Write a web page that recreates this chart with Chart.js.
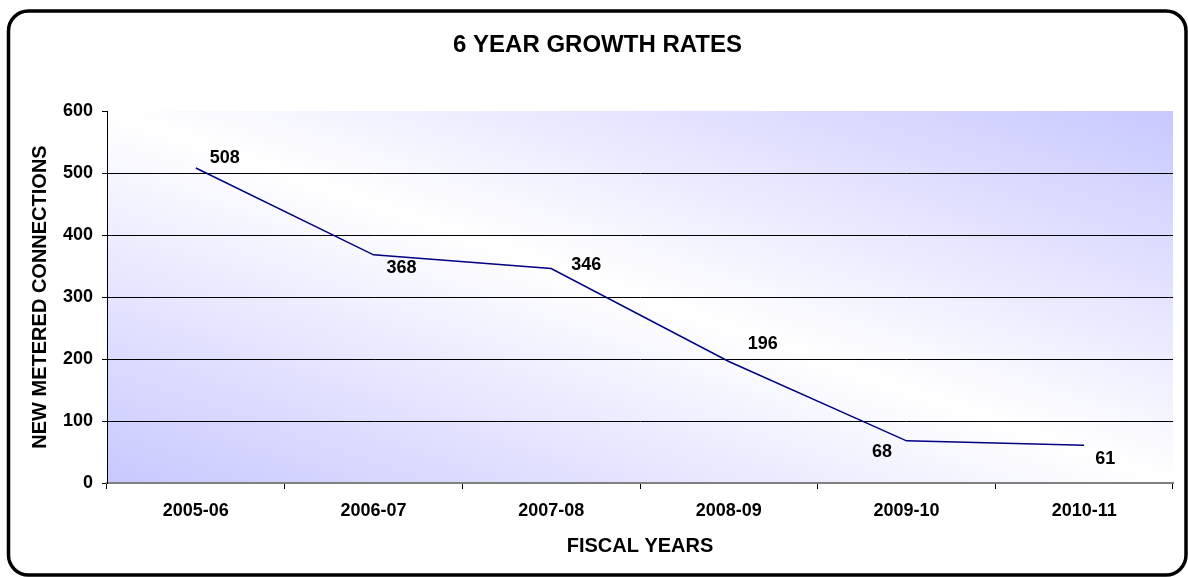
<!DOCTYPE html>
<html>
<head>
<meta charset="utf-8">
<title>6 Year Growth Rates</title>
<script src="https://cdn.jsdelivr.net/npm/chart.js@4/dist/chart.umd.min.js"></script>
<style>
    html, body { margin: 0; padding: 0; background: #ffffff; }
    #wrap { position: relative; width: 1188px; height: 577px; }
</style>
</head>
<body>
<div id="wrap"><canvas id="growthChart"></canvas></div>
<script>
// Chart data
const fiscalYears = ['2005-06', '2006-07', '2007-08', '2008-09', '2009-10', '2010-11'];
const newConnections = [508, 368, 346, 196, 68, 61];
const yMin = 0;
const yMax = 600;
const yStep = 100;

const FONT = "'Liberation Sans', Arial, Helvetica, sans-serif";

// Excel-style diagonal gradient behind the plot
const plotBackground = {
    id: 'plotBackground',
    beforeDraw(chart) {
        const { ctx, chartArea: a } = chart;
        ctx.save();
        ctx.translate(a.left, a.top);
        ctx.scale(a.right - a.left, a.bottom - a.top);
        const g = ctx.createLinearGradient(0, 1, 1, 0);
        g.addColorStop(0, '#c8c8ff');
        g.addColorStop(0.5, '#ffffff');
        g.addColorStop(1, '#c8c8ff');
        ctx.fillStyle = g;
        ctx.fillRect(0, 0, 1, 1);
        ctx.restore();
    }
};

// Rounded outer frame
const chartFrame = {
    id: 'chartFrame',
    afterDraw(chart) {
        const ctx = chart.ctx;
        const x = 8.5, y = 11, w = 1177.5, h = 564, r = 20;
        ctx.save();
        ctx.lineWidth = 3.5;
        ctx.strokeStyle = '#000000';
        ctx.beginPath();
        ctx.roundRect(x, y, w, h, r);
        ctx.stroke();
        ctx.restore();
    }
};

// Value labels, nudged like the hand-placed ones in the original
const valueLabels = {
    id: 'valueLabels',
    afterDatasetsDraw(chart, args, opts) {
        const ctx = chart.ctx;
        const meta = chart.getDatasetMeta(0);
        ctx.save();
        ctx.font = 'bold 18px ' + FONT;
        ctx.fillStyle = '#000000';
        ctx.textAlign = 'center';
        ctx.textBaseline = 'middle';
        meta.data.forEach((pt, i) => {
            const off = opts.offsets[i] || [0, 0];
            ctx.fillText(String(chart.data.datasets[0].data[i]), pt.x + off[0], pt.y + off[1]);
        });
        ctx.restore();
    }
};

const ctx = document.getElementById('growthChart').getContext('2d');
new Chart(ctx, {
    type: 'line',
    data: {
        labels: fiscalYears,
        datasets: [{
            label: 'New metered connections',
            data: newConnections,
            borderColor: '#000080',
            borderWidth: 1.5,
            pointRadius: 0,
            pointHoverRadius: 0,
            tension: 0,
            fill: false
        }]
    },
    options: {
        responsive: true,
        maintainAspectRatio: false,
        animation: false,
        layout: {
            padding: { left: 22, right: 15, top: 14, bottom: 10 }
        },
        plugins: {
            legend: { display: false },
            tooltip: { enabled: false },
            title: {
                display: true,
                text: '6 YEAR GROWTH RATES',
                color: '#000000',
                font: { family: FONT, size: 24, weight: 'bold' },
                padding: { top: 16.6, bottom: 51.6 }
            },
            valueLabels: {
                offsets: [[29, -10], [28, 13], [35, -3], [34, -17], [-24.5, 11], [21, 14]]
            }
        },
        scales: {
            x: {
                offset: true,
                grid: {
                    drawOnChartArea: false,
                    offset: true,
                    tickLength: 6,
                    tickColor: '#000000'
                },
                border: { color: '#808080', width: 2 },
                ticks: {
                    color: '#000000',
                    padding: 11,
                    maxRotation: 0,
                    font: { family: FONT, size: 18, weight: 'bold' }
                },
                title: {
                    display: true,
                    text: 'FISCAL YEARS',
                    color: '#000000',
                    font: { family: FONT, size: 20, weight: 'bold' },
                    padding: { top: 0, bottom: 9 }
                },
                afterFit(scale) { scale.height = 84; }
            },
            y: {
                min: yMin,
                max: yMax,
                grid: {
                    color: c => (c.tick && (c.tick.value === yMin || c.tick.value === yMax)) ? 'rgba(0,0,0,0)' : '#000000',
                    lineWidth: 1,
                    tickLength: 5,
                    tickColor: '#000000'
                },
                border: { color: '#000000', width: 1 },
                ticks: {
                    stepSize: yStep,
                    color: '#000000',
                    padding: 9,
                    font: { family: FONT, size: 18, weight: 'bold' }
                },
                title: {
                    display: true,
                    text: 'NEW METERED CONNECTIONS',
                    color: '#000000',
                    font: { family: FONT, size: 20, weight: 'bold' },
                    padding: { top: 6, bottom: 0 }
                },
                afterFit(scale) { scale.width = 85; }
            }
        }
    },
    plugins: [plotBackground, valueLabels, chartFrame]
});
</script>
</body>
</html>
